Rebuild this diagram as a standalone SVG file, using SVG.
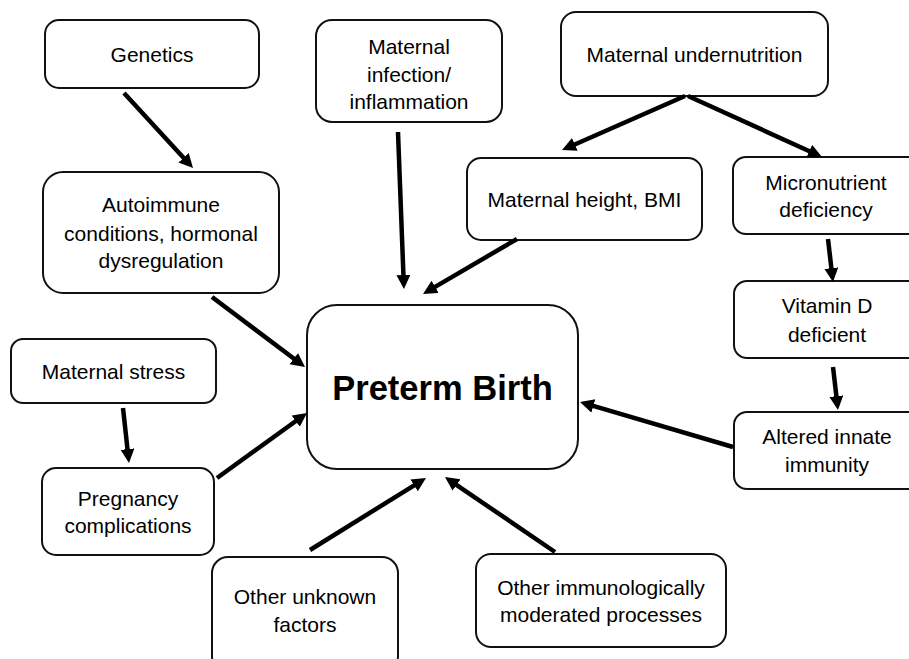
<svg xmlns="http://www.w3.org/2000/svg" width="909" height="659" viewBox="0 0 909 659">
<style>
.box{fill:#fff;stroke:#111;stroke-width:2}
.t{font-family:"Liberation Sans",Arial,sans-serif;font-size:21px;fill:#000;text-anchor:middle}
.big{font-family:"Liberation Sans",Arial,sans-serif;font-size:34.5px;font-weight:bold;fill:#000;text-anchor:middle}
.c line{stroke:#000;stroke-width:4.5;marker-end:url(#ah)}
</style>
<defs>
<marker id="ah" markerUnits="userSpaceOnUse" markerWidth="16" markerHeight="16" refX="2" refY="7" orient="auto">
<path d="M0,0 L14,7 L0,14 z" fill="#000"/>
</marker>
</defs>
<rect width="909" height="659" fill="#fff"/>
<g id="genetics"><rect class="box" x="45" y="20" width="214" height="68" rx="14"/><text class="t" x="152" y="62">Genetics</text></g>
<g id="infection"><rect class="box" x="316" y="20" width="186" height="102" rx="16"/><text class="t" x="409" y="54">Maternal</text><text class="t" x="409" y="82">infection/</text><text class="t" x="409" y="109">inflammation</text></g>
<g id="undernutrition"><rect class="box" x="561" y="12" width="267" height="84" rx="15"/><text class="t" x="694.5" y="62">Maternal undernutrition</text></g>
<g id="autoimmune"><rect class="box" x="43" y="172" width="236" height="121" rx="20"/><text class="t" x="161" y="212">Autoimmune</text><text class="t" x="161" y="241">conditions, hormonal</text><text class="t" x="161" y="268">dysregulation</text></g>
<g id="height"><rect class="box" x="467" y="158" width="235" height="82" rx="14"/><text class="t" x="584.5" y="207">Maternal height, BMI</text></g>
<g id="micronutrient"><rect class="box" x="733" y="157" width="190" height="77" rx="13"/><text class="t" x="826" y="190">Micronutrient</text><text class="t" x="826" y="217">deficiency</text></g>
<g id="vitd"><rect class="box" x="734" y="281" width="190" height="77" rx="13"/><text class="t" x="827" y="313">Vitamin D</text><text class="t" x="827" y="342">deficient</text></g>
<g id="preterm"><rect class="box" x="307" y="305" width="271" height="164" rx="30"/><text class="big" x="442.5" y="400">Preterm Birth</text></g>
<g id="stress"><rect class="box" x="11" y="339" width="205" height="64" rx="12"/><text class="t" x="113.5" y="379">Maternal stress</text></g>
<g id="altered"><rect class="box" x="734" y="412" width="190" height="77" rx="13"/><text class="t" x="827" y="444">Altered innate</text><text class="t" x="827" y="472">immunity</text></g>
<g id="pregnancy"><rect class="box" x="42" y="468" width="172" height="87" rx="14"/><text class="t" x="128" y="506">Pregnancy</text><text class="t" x="128" y="533">complications</text></g>
<g id="unknown"><rect class="box" x="212" y="557" width="186" height="115" rx="16"/><text class="t" x="305" y="604">Other unknown</text><text class="t" x="305" y="632">factors</text></g>
<g id="immuno"><rect class="box" x="476" y="554" width="250" height="93" rx="15"/><text class="t" x="601" y="595">Other immunologically</text><text class="t" x="601" y="622">moderated processes</text></g>
<g id="connectors" class="c">
<line x1="124" y1="93" x2="184.9" y2="159.2"/>
<line x1="398" y1="132" x2="403.5" y2="277"/>
<line x1="517" y1="239" x2="433.4" y2="287.9"/>
<line x1="685" y1="96" x2="573" y2="145.2"/>
<line x1="688" y1="96" x2="811.1" y2="152"/>
<line x1="828" y1="239" x2="831.6" y2="270.1"/>
<line x1="833" y1="367" x2="836.6" y2="398.1"/>
<line x1="733" y1="447" x2="591.5" y2="405.4"/>
<line x1="555" y1="552" x2="454.9" y2="483.8"/>
<line x1="310" y1="550" x2="415.8" y2="484.3"/>
<line x1="212" y1="297" x2="295.4" y2="359.8"/>
<line x1="123" y1="408" x2="127.7" y2="451.1"/>
<line x1="217" y1="478" x2="297.3" y2="420"/>
</g>
</svg>
